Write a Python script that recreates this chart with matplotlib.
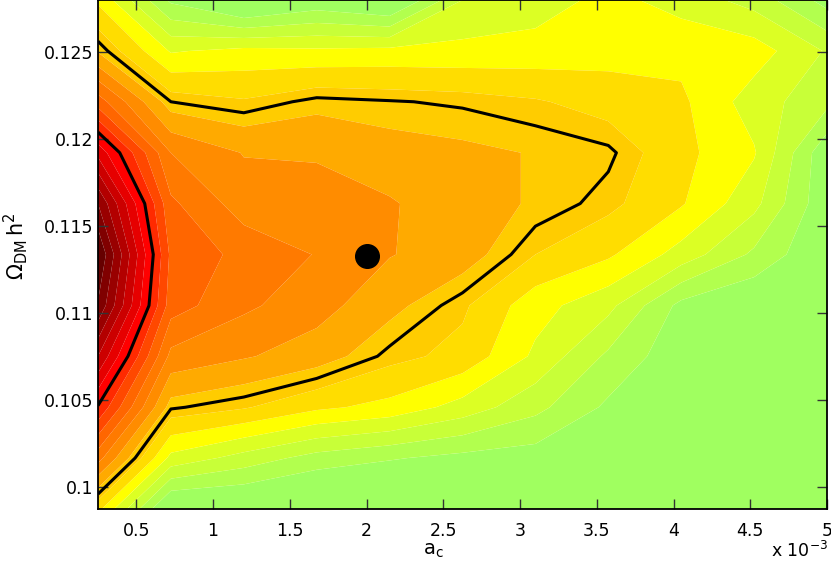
import numpy as np
import matplotlib
matplotlib.use("Agg")
import matplotlib.pyplot as plt
from matplotlib.ticker import FuncFormatter

# grid of the scan (a_c in units of 1e-3)
a_c = [0.25, 0.725, 1.2, 1.675, 2.15, 2.625, 3.1, 3.575, 4.05, 4.525, 5.0]
omega_dm = [0.09874, 0.10167, 0.10459, 0.10752, 0.11044, 0.11337,
            0.11630, 0.11922, 0.12215, 0.12507, 0.12800]

# relative likelihood (in units of colour bands), rows = omega_dm (bottom->top)
row00 = [5.3, -0.5, -0.5, -1.0, -1.0, -1.0, -1.0, 0.0, 0.0, 0.0, 0.0]
row01 = [9.4, 3.7, 2.6, 1.6, 1.1, 0.7, 0.5, 0.0, 0.0, 0.0, 0.0]
row02 = [12.9, 6.6, 6.1, 5.2, 4.7, 3.6, 2.3, 0.8, 0.0, 0.0, 0.0]
row03 = [16.0, 8.7, 8.1, 7.5, 6.3, 5.7, 3.8, 1.8, 0.3, 0.0, 0.0]
row04 = [18.9, 10.47, 9.2, 8.4, 7.3, 6.17, 4.4, 3.3, 0.7, 0.0, 0.0]
row05 = [20.0, 10.77, 9.69, 8.95, 8.05, 7.5, 6.0, 5.16, 3.6, 1.8, 0.0]
row06 = [18.0, 10.2, 8.5, 8.4, 8.1, 7.4, 6.9, 6.25, 5.1, 3.3, 0.2]
row07 = [14.7, 9.0, 7.95, 7.9, 7.4, 7.2, 6.95, 6.65, 5.3, 4.1, 0.2]
row08 = [10.5, 6.5, 6.1, 6.7, 6.55, 6.4, 6.1, 5.6, 5.2, 3.5, 2.3]
row09 = [6.9, 3.9, 4.3, 4.2, 4.3, 4.3, 4.4, 4.6, 4.7, 4.5, 2.9]
row10 = [4.8, 0.8, -0.8, 0.2, -0.5, 3.0, 3.5, 4.3, 3.6, 2.6, 0.6]

fill_levels = [-3, 1, 2, 3, 4, 5, 6, 7, 8, 9, 10, 11, 12, 13, 14, 15, 16, 17, 18, 19, 20.5]
conf_levels = [6.5, 13.0]

best_fit_a = 2.0
best_fit_omega = 0.1133

x_ticks = [0.5, 1, 1.5, 2, 2.5, 3, 3.5, 4, 4.5, 5]
y_ticks = [0.1, 0.105, 0.11, 0.115, 0.12, 0.125]

band_colors = ['#A0FF60', '#B2FF4E', '#C8FF38', '#DCFF24', '#FFFF00',
               '#FFDD00', '#FFCC00', '#FFAA00', '#FF8C00', '#FF7A00',
               '#FF6600', '#FF4800', '#FF2A00', '#FF0000', '#E60000',
               '#CC0000', '#B30000', '#990000', '#800000', '#660000']

Z = np.array([row00, row01, row02, row03, row04, row05,
              row06, row07, row08, row09, row10])
A, O = np.meshgrid(a_c, omega_dm)

fig = plt.figure(figsize=(8.31, 5.61), dpi=100)
ax = fig.add_axes([98/831, 52/561, 729/831, 509/561])

ax.contourf(A, O, Z, levels=fill_levels, colors=band_colors, antialiased=True)
ax.contour(A, O, Z, levels=conf_levels, colors='k', linewidths=2.2)
ax.plot([best_fit_a], [best_fit_omega], 'o', color='k', markersize=17)

ax.set_xlim(a_c[0], a_c[-1])
ax.set_ylim(omega_dm[0], omega_dm[-1])
ax.set_xticks(x_ticks)
ax.set_yticks(y_ticks)
ax.xaxis.set_major_formatter(FuncFormatter(lambda v, p: '%g' % v))
ax.yaxis.set_major_formatter(FuncFormatter(lambda v, p: '%g' % round(v, 4)))
ax.tick_params(direction='in', length=7, width=1, top=True, right=True,
               labelsize=12.5, color='#333333')
ax.tick_params(axis='x', pad=9)
ax.tick_params(axis='y', pad=3)
for s in ax.spines.values():
    s.set_linewidth(1.3)
    s.set_zorder(5)

ax.set_xlabel(r'a$_\mathrm{c}$', fontsize=14)
ax.xaxis.set_label_coords(0.46, -0.062)
fig.text(16/831, 1 - 246/561, r'$\Omega_\mathrm{DM}\,$h$^2$', rotation=90,
         ha='center', va='center', fontsize=15)
fig.text(0.997, 1 - 551/561, r'x 10$^{-3}$', ha='right', va='center', fontsize=12.5)

fig.savefig('out.png', dpi=100)
